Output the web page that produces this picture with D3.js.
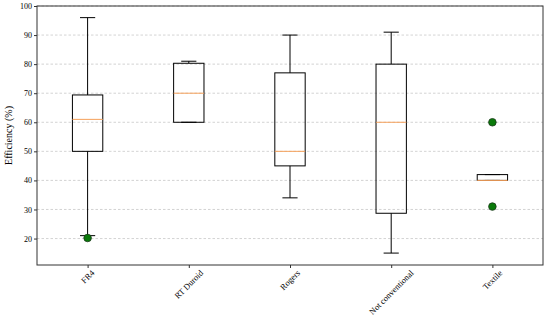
<!DOCTYPE html>
<html><head><meta charset="utf-8">
<script src="https://cdn.jsdelivr.net/npm/d3@7"></script>
<style>body{margin:0;background:#fff}svg{display:block}text{font-family:"Liberation Serif","DejaVu Serif",serif;fill:#000}</style>
</head><body><svg id="c" width="550" height="321"></svg>
<script>
const categories = ["FR4","RT Duroid","Rogers","Not conventional","Textile"];
const whiskerLow  = [21, 60, 34, 15, 40];
const q1          = [50, 60, 45, 28.7, 40];
const median      = [61, 70, 50, 60, 40];
const q3          = [69.4, 80.3, 77, 80, 42];
const whiskerHigh = [96, 81, 90, 91, 42];
const outliers    = [[20.2], [], [], [], [60, 31]];
const yTicks = [20,30,40,50,60,70,80,90,100];

const svg = d3.select("#c");
const L = 37, R = 543, T = 6, B = 265;
const x = d3.scaleLinear().domain([0.5, 5.5]).range([L, R]);
const y = d3.scaleLinear().domain([10.9, 100]).range([B, T]);
const unit = x(1) - x(0);

svg.append("g").selectAll("line").data(yTicks).join("line")
  .attr("x1", L).attr("x2", R).attr("y1", d => y(d)).attr("y2", d => y(d))
  .attr("stroke", "#c8c8c8").attr("stroke-width", 0.8).attr("stroke-dasharray", "2.5,2");

const ya = svg.append("g").attr("transform", `translate(${L},0)`)
  .call(d3.axisLeft(y).tickValues(yTicks).tickSize(3).tickPadding(2));
ya.select(".domain").remove();
ya.selectAll("text").attr("font-size", 8).attr("fill", "#000").style("font-family", '"Liberation Serif",serif');
ya.selectAll("line").attr("stroke", "#333");

const xa = svg.append("g").attr("transform", `translate(0,${B})`)
  .call(d3.axisBottom(x).tickValues(d3.range(1, 6)).tickSize(3).tickFormat(""));
xa.select(".domain").remove();
xa.selectAll("line").attr("stroke", "#333");

categories.forEach((c, i) => {
  const t = svg.append("text").text(c).attr("font-size", 8.5).attr("text-anchor", "middle")
    .attr("dominant-baseline", "central").attr("fill", "#000");
  const len = t.node().getComputedTextLength();
  const h = 7;
  const half = (len + h) * Math.SQRT1_2 / 2;
  const cx = x(i + 1), cy = B + 4 + half;
  t.attr("transform", `translate(${cx},${cy}) rotate(-45)`);
});

svg.append("rect").attr("x", L).attr("y", T).attr("width", R - L).attr("height", B - T)
  .attr("fill", "none").attr("stroke", "#333").attr("stroke-width", 1);

const g = svg.append("g");
categories.forEach((c, i) => {
  const cx = x(i + 1), bw = 0.3 * unit, cw = 0.15 * unit;
  const line = (x1, y1, x2, y2, col = "#000", w = 1) =>
    g.append("line").attr("x1", x1).attr("y1", y1).attr("x2", x2).attr("y2", y2)
      .attr("stroke", col).attr("stroke-width", w);
  line(cx, y(q3[i]), cx, y(whiskerHigh[i]));
  line(cx, y(q1[i]), cx, y(whiskerLow[i]));
  line(cx - cw / 2, y(whiskerHigh[i]), cx + cw / 2, y(whiskerHigh[i]));
  line(cx - cw / 2, y(whiskerLow[i]), cx + cw / 2, y(whiskerLow[i]));
  g.append("rect").attr("x", cx - bw / 2).attr("y", y(q3[i])).attr("width", bw)
    .attr("height", Math.max(0, y(q1[i]) - y(q3[i])))
    .attr("fill", "none").attr("stroke", "#000").attr("stroke-width", 1);
  line(cx - bw / 2, y(median[i]), cx + bw / 2, y(median[i]), "#f5a05a", 1);
  outliers[i].forEach(v => {
    g.append("circle").attr("cx", cx).attr("cy", y(v)).attr("r", 3.8)
      .attr("fill", "#0a7a0a").attr("stroke", "#1a3a1a").attr("stroke-width", 0.8);
  });
});

svg.append("text").text("Efficiency (%)").attr("font-size", 10).attr("text-anchor", "middle")
  .attr("fill", "#000")
  .attr("transform", `translate(12,${(T + B) / 2}) rotate(-90)`);
</script></body></html>
